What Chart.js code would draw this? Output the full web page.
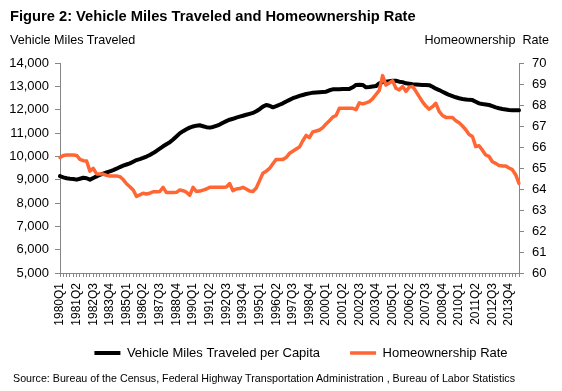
<!DOCTYPE html>
<html>
<head>
<meta charset="utf-8">
<script src="https://cdn.jsdelivr.net/npm/chart.js@4.4.1/dist/chart.umd.min.js"></script>
<style>
  html, body { margin: 0; padding: 0; background: #ffffff; }
  #wrap { position: relative; width: 562px; height: 391px; overflow: hidden; font-family: Arial, "Liberation Sans", sans-serif; color: #000; }
  #c { position: absolute; left: 0; top: 0; }
  .txt { position: absolute; white-space: pre; line-height: 1; }
  #title { left: 10px; top: 8.8px; font-size: 14.7px; font-weight: bold; }
  #ytitle { left: 10px; top: 33.8px; font-size: 12.6px; }
  #y2title { right: 13px; top: 33.8px; font-size: 12.6px; }
  #source { left: 13px; top: 372.8px; font-size: 10.7px; }
</style>
</head>
<body>
<div id="wrap">
  <canvas id="c" width="562" height="391"></canvas>
  <div class="txt" id="title">Figure 2: Vehicle Miles Traveled and Homeownership Rate</div>
  <div class="txt" id="ytitle">Vehicle Miles Traveled</div>
  <div class="txt" id="y2title">Homeownership  Rate</div>
  <div class="txt" id="source">Source: Bureau of the Census, Federal Highway Transportation Administration , Bureau of Labor Statistics</div>
</div>
<script>
// Categories: quarters 1980Q1 .. 2014Q3
const quarters = [];
for (let y = 1980; y <= 2014; y++) {
  for (let q = 1; q <= 4; q++) {
    if (y === 2014 && q > 3) break;
    quarters.push(y + 'Q' + q);
  }
}

// Vehicle miles traveled per capita (left axis)
const vmtPerCapita = [
  9150, 9100, 9060, 9040, 9030, 9000, 9040, 9080, 9060, 9000,
  9070, 9140, 9210, 9260, 9310, 9360, 9410, 9470, 9540, 9600,
  9650, 9700, 9770, 9840, 9880, 9930, 9990, 10060, 10140, 10230,
  10330, 10430, 10520, 10600, 10720, 10850, 10985, 11080, 11160, 11230,
  11280, 11315, 11330, 11290, 11250, 11230, 11260, 11310, 11360, 11440,
  11510, 11570, 11610, 11660, 11700, 11740, 11780, 11820, 11860, 11930,
  12020, 12130, 12200, 12170, 12100, 12150, 12210, 12270, 12350, 12420,
  12490, 12540, 12590, 12630, 12670, 12700, 12730, 12740, 12750, 12760,
  12770, 12830, 12870, 12880, 12880, 12890, 12890, 12890, 12960, 13060,
  13070, 13060, 12960, 12970, 12990, 13010, 13130, 13180, 13200, 13220,
  13240, 13240, 13200, 13180, 13130, 13110, 13090, 13080, 13070, 13060,
  13060, 13050, 12980, 12900, 12840, 12770, 12700, 12630, 12580, 12530,
  12490, 12460, 12440, 12420, 12410, 12340, 12270, 12240, 12220, 12200,
  12150, 12100, 12060, 12030, 12010, 11990, 11980, 11980, 11980
];

// Homeownership rate, percent (right axis)
const homeownershipRate = [
  65.50, 65.60, 65.62, 65.62, 65.62, 65.60, 65.41, 65.35, 65.33, 64.85,
  64.98, 64.72, 64.71, 64.71, 64.65, 64.62, 64.62, 64.62, 64.59, 64.45,
  64.25, 64.11, 63.95, 63.65, 63.72, 63.80, 63.76, 63.80, 63.87, 63.87,
  63.88, 64.08, 63.83, 63.83, 63.83, 63.84, 63.95, 63.92, 63.85, 63.70,
  64.08, 63.88, 63.90, 63.95, 64.00, 64.08, 64.08, 64.08, 64.08, 64.08,
  64.10, 64.26, 63.92, 64.00, 64.02, 64.08, 64.00, 63.90, 63.88, 64.05,
  64.40, 64.75, 64.85, 64.98, 65.20, 65.41, 65.41, 65.41, 65.50, 65.70,
  65.80, 65.90, 66.00, 66.30, 66.55, 66.45, 66.72, 66.76, 66.81, 66.92,
  67.10, 67.25, 67.42, 67.50, 67.84, 67.85, 67.85, 67.85, 67.84, 67.78,
  68.10, 68.05, 68.10, 68.16, 68.30, 68.50, 68.70, 69.40, 68.95, 69.05,
  69.15, 68.80, 68.72, 68.88, 68.65, 68.85, 68.88, 68.65, 68.40, 68.15,
  67.95, 67.80, 67.92, 68.08, 67.70, 67.50, 67.41, 67.41, 67.40, 67.25,
  67.15, 67.00, 66.82, 66.60, 66.50, 66.02, 66.06, 65.85, 65.62, 65.55,
  65.30, 65.22, 65.12, 65.10, 65.10, 65.00, 64.92, 64.68, 64.27
];

// Axis ranges / tick steps
const vmtTicks = [5000, 6000, 7000, 8000, 9000, 10000, 11000, 12000, 13000, 14000];
const rateTicks = [60, 61, 62, 63, 64, 65, 66, 67, 68, 69, 70];
const xLabelEvery = 5;

const axisGray = '#868686';
const fontFamily = 'Arial, "Liberation Sans", sans-serif';

// Moves the legend up and right (Excel-style placement) after the layout.
const legendPlace = {
  id: 'legendPlace',
  afterLayout(chart) {
    const lg = chart.legend;
    if (!lg) return;
    lg.top -= 20; lg.bottom -= 20;
    lg.left += 40;
  }
};

new Chart(document.getElementById('c'), {
  type: 'line',
  data: {
    labels: quarters,
    datasets: [
      {
        label: 'Vehicle Miles Traveled per Capita',
        data: vmtPerCapita,
        yAxisID: 'y',
        borderColor: '#000000',
        backgroundColor: '#000000',
        borderWidth: 4,
        pointRadius: 0,
        tension: 0,
        borderJoinStyle: 'round',
        borderCapStyle: 'round',
        order: 1
      },
      {
        label: 'Homeownership Rate',
        data: homeownershipRate,
        yAxisID: 'y2',
        borderColor: '#FF6633',
        backgroundColor: '#FF6633',
        borderWidth: 3.5,
        pointRadius: 0,
        tension: 0,
        borderJoinStyle: 'round',
        borderCapStyle: 'round',
        order: 0
      }
    ]
  },
  plugins: [legendPlace],
  options: {
    responsive: false,
    animation: false,
    devicePixelRatio: 1,
    layout: { padding: { left: 0, right: 0, top: 63, bottom: 1.5 } },
    plugins: {
      title: { display: false },
      tooltip: { enabled: false },
      legend: {
        display: true,
        position: 'bottom',
        labels: {
          usePointStyle: true,
          pointStyle: 'line',
          pointStyleWidth: 26,
          padding: 30,
          color: '#000',
          font: { size: 13, family: fontFamily },
          sort: function (a, b) { return a.datasetIndex - b.datasetIndex; }
        }
      }
    },
    scales: {
      x: {
        type: 'category',
        offset: false,
        grid: { display: true, drawOnChartArea: false, drawTicks: true, tickLength: 4, color: axisGray },
        border: { display: true, color: axisGray, width: 1 },
        ticks: {
          autoSkip: false,
          minRotation: 90,
          maxRotation: 90,
          padding: 6,
          color: '#000',
          font: { size: 12, family: fontFamily },
          callback: function (v, i) { return i % xLabelEvery === 0 ? quarters[i] : ''; }
        },
        afterFit: function (s) { s.height = 63.5; }
      },
      y: {
        position: 'left',
        min: vmtTicks[0],
        max: vmtTicks[vmtTicks.length - 1],
        grid: { display: true, drawOnChartArea: false, drawTicks: true, tickLength: 5, color: axisGray },
        border: { display: true, color: axisGray, width: 1 },
        ticks: {
          stepSize: vmtTicks[1] - vmtTicks[0],
          padding: 6,
          color: '#000',
          font: { size: 13, family: fontFamily },
          callback: function (v) { return Number(v).toLocaleString('en-US'); }
        },
        afterFit: function (s) { s.width = 60; }
      },
      y2: {
        position: 'right',
        min: rateTicks[0],
        max: rateTicks[rateTicks.length - 1],
        grid: { display: true, drawOnChartArea: false, drawTicks: true, tickLength: 5, color: axisGray },
        border: { display: true, color: axisGray, width: 1 },
        ticks: {
          stepSize: rateTicks[1] - rateTicks[0],
          padding: 8,
          color: '#000',
          font: { size: 13, family: fontFamily }
        },
        afterFit: function (s) { s.width = 43; }
      }
    }
  }
});
</script>
</body>
</html>
